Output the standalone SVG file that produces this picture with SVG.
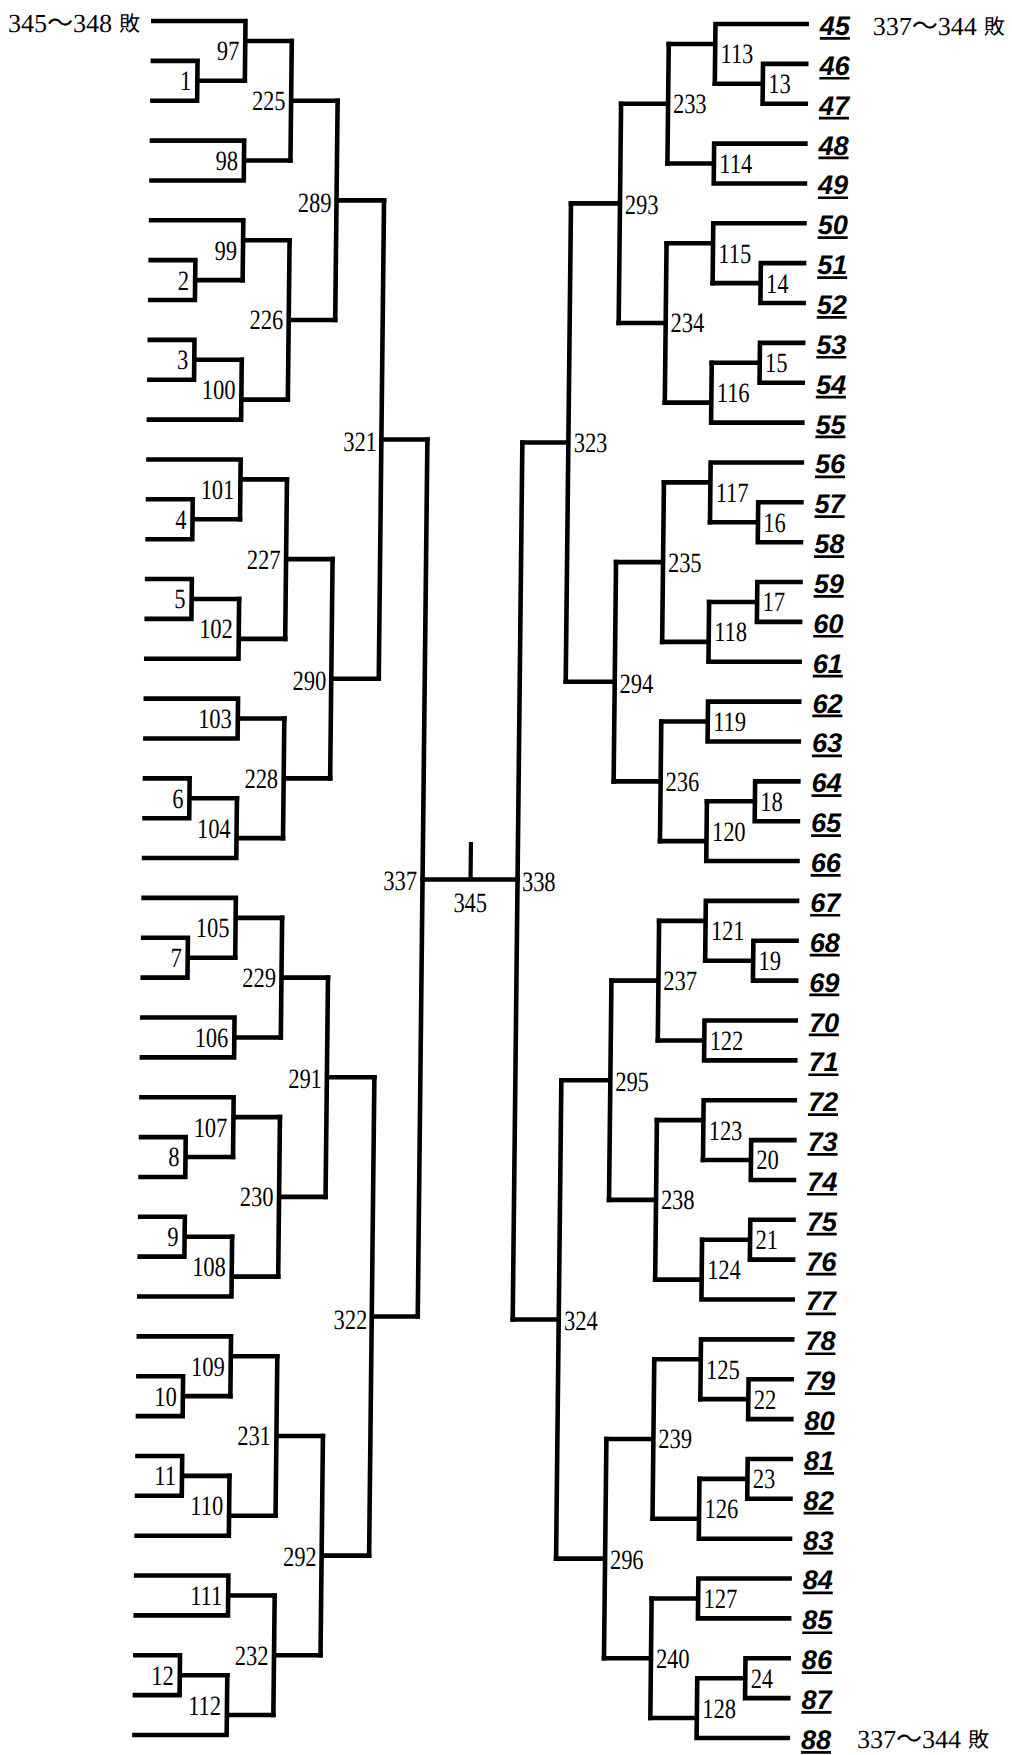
<svg xmlns="http://www.w3.org/2000/svg" width="1012" height="1755" viewBox="0 0 1012 1755">
<style>
.b{fill:none;stroke:#000;stroke-width:4.6;stroke-linecap:square;stroke-linejoin:miter}
.n{font-family:"Liberation Serif","Noto Sans CJK JP",serif;font-size:28px;fill:#000}
.e{text-anchor:end}
.s{text-anchor:start}
.m{text-anchor:middle}
.p{font-family:"Liberation Sans",Arial,sans-serif;font-size:27px;font-weight:bold;font-style:italic;text-decoration:underline;fill:#000}
.c{font-family:"Liberation Serif","Noto Sans CJK JP",serif;font-size:26px;fill:#000}
.k{font-family:"Noto Sans CJK JP",sans-serif;font-size:21px;fill:#000}
</style>
<rect width="1012" height="1755" fill="#fff"/>
<g transform="matrix(1,0,-0.011,1,0.231,0)">
<g id="connectors" class="b">
<path d="M153.3 60.86H198V100.72H153.3M198 80.79H245.5"/>
<path d="M153.3 260.16H198V300.02H153.3M198 280.09H245.5"/>
<path d="M153.3 339.88H198V379.74H153.3M198 359.81H245.5"/>
<path d="M153.3 499.32H198V539.18H153.3M198 519.25H245.5"/>
<path d="M153.3 579.04H198V618.9H153.3M198 598.97H245.5"/>
<path d="M153.3 778.34H198V818.2H153.3M198 798.27H245.5"/>
<path d="M153.3 937.78H198V977.64H153.3M198 957.71H245.5"/>
<path d="M153.3 1137.08H198V1176.94H153.3M198 1157.01H245.5"/>
<path d="M153.3 1216.8H198V1256.66H153.3M198 1236.73H245.5"/>
<path d="M153.3 1376.24H198V1416.1H153.3M198 1396.17H245.5"/>
<path d="M153.3 1455.96H198V1495.82H153.3M198 1475.89H245.5"/>
<path d="M153.3 1655.26H198V1695.12H153.3M198 1675.19H245.5"/>
<path d="M153.3 21H245.5V80.79M245.5 40.93H292"/>
<path d="M153.3 140.58H245.5V180.44H153.3M245.5 160.51H292"/>
<path d="M153.3 220.3H245.5V280.09M245.5 240.23H292"/>
<path d="M245.5 359.81V419.6H153.3M245.5 399.67H292"/>
<path d="M153.3 459.46H245.5V519.25M245.5 479.39H292"/>
<path d="M245.5 598.97V658.76H153.3M245.5 638.83H292"/>
<path d="M153.3 698.62H245.5V738.48H153.3M245.5 718.55H292"/>
<path d="M245.5 798.27V858.06H153.3M245.5 838.13H292"/>
<path d="M153.3 897.92H245.5V957.71M245.5 917.85H292"/>
<path d="M153.3 1017.5H245.5V1057.36H153.3M245.5 1037.43H292"/>
<path d="M153.3 1097.22H245.5V1157.01M245.5 1117.15H292"/>
<path d="M245.5 1236.73V1296.52H153.3M245.5 1276.59H292"/>
<path d="M153.3 1336.38H245.5V1396.17M245.5 1356.31H292"/>
<path d="M245.5 1475.89V1535.68H153.3M245.5 1515.75H292"/>
<path d="M153.3 1575.54H245.5V1615.4H153.3M245.5 1595.47H292"/>
<path d="M245.5 1675.19V1734.98H153.3M245.5 1715.05H292"/>
<path d="M292 40.93V160.51M292 100.72H338.5"/>
<path d="M292 240.23V399.67M292 319.95H338.5"/>
<path d="M292 479.39V638.83M292 559.11H338.5"/>
<path d="M292 718.55V838.13M292 778.34H338.5"/>
<path d="M292 917.85V1037.43M292 977.64H338.5"/>
<path d="M292 1117.15V1276.59M292 1196.87H338.5"/>
<path d="M292 1356.31V1515.75M292 1436.03H338.5"/>
<path d="M292 1595.47V1715.05M292 1655.26H338.5"/>
<path d="M338.5 100.72V319.95M338.5 200.37H386"/>
<path d="M338.5 559.11V778.34M338.5 678.69H386"/>
<path d="M338.5 977.64V1196.87M338.5 1077.29H386"/>
<path d="M338.5 1436.03V1655.26M338.5 1555.61H386"/>
<path d="M386 200.37V678.69M386 439.53H432"/>
<path d="M386 1077.29V1555.61M386 1316.45H432"/>
<path d="M432 439.53V1316.45"/>
<path d="M527 442.53V1319.45"/>
<path d="M432 879.5H527"/>
<path d="M480 842V879.5" style="stroke-width:4.2;stroke-linecap:butt"/>
<path d="M806.7 63.86H763.5V103.72H806.7M763.5 83.79H715.5"/>
<path d="M806.7 263.16H763.5V303.02H806.7M763.5 283.09H715.5"/>
<path d="M806.7 342.88H763.5V382.74H806.7M763.5 362.81H715.5"/>
<path d="M806.7 502.32H763.5V542.18H806.7M763.5 522.25H715.5"/>
<path d="M806.7 582.04H763.5V621.9H806.7M763.5 601.97H715.5"/>
<path d="M806.7 781.34H763.5V821.2H806.7M763.5 801.27H715.5"/>
<path d="M806.7 940.78H763.5V980.64H806.7M763.5 960.71H715.5"/>
<path d="M806.7 1140.08H763.5V1179.94H806.7M763.5 1160.01H715.5"/>
<path d="M806.7 1219.8H763.5V1259.66H806.7M763.5 1239.73H715.5"/>
<path d="M806.7 1379.24H763.5V1419.1H806.7M763.5 1399.17H715.5"/>
<path d="M806.7 1458.96H763.5V1498.82H806.7M763.5 1478.89H715.5"/>
<path d="M806.7 1658.26H763.5V1698.12H806.7M763.5 1678.19H715.5"/>
<path d="M806.7 24H715.5V83.79M715.5 43.93H669"/>
<path d="M806.7 143.58H715.5V183.44H806.7M715.5 163.51H669"/>
<path d="M806.7 223.3H715.5V283.09M715.5 243.23H669"/>
<path d="M715.5 362.81V422.6H806.7M715.5 402.67H669"/>
<path d="M806.7 462.46H715.5V522.25M715.5 482.39H669"/>
<path d="M715.5 601.97V661.76H806.7M715.5 641.83H669"/>
<path d="M806.7 701.62H715.5V741.48H806.7M715.5 721.55H669"/>
<path d="M715.5 801.27V861.06H806.7M715.5 841.13H669"/>
<path d="M806.7 900.92H715.5V960.71M715.5 920.85H669"/>
<path d="M806.7 1020.5H715.5V1060.36H806.7M715.5 1040.43H669"/>
<path d="M806.7 1100.22H715.5V1160.01M715.5 1120.15H669"/>
<path d="M715.5 1239.73V1299.52H806.7M715.5 1279.59H669"/>
<path d="M806.7 1339.38H715.5V1399.17M715.5 1359.31H669"/>
<path d="M715.5 1478.89V1538.68H806.7M715.5 1518.75H669"/>
<path d="M806.7 1578.54H715.5V1618.4H806.7M715.5 1598.47H669"/>
<path d="M715.5 1678.19V1737.98H806.7M715.5 1718.05H669"/>
<path d="M669 43.93V163.51M669 103.72H622"/>
<path d="M669 243.23V402.67M669 322.95H622"/>
<path d="M669 482.39V641.83M669 562.11H622"/>
<path d="M669 721.55V841.13M669 781.34H622"/>
<path d="M669 920.85V1040.43M669 980.64H622"/>
<path d="M669 1120.15V1279.59M669 1199.87H622"/>
<path d="M669 1359.31V1518.75M669 1439.03H622"/>
<path d="M669 1598.47V1718.05M669 1658.26H622"/>
<path d="M622 103.72V322.95M622 203.37H573"/>
<path d="M622 562.11V781.34M622 681.69H573"/>
<path d="M622 980.64V1199.87M622 1080.29H573"/>
<path d="M622 1439.03V1658.26M622 1558.61H573"/>
<path d="M573 203.37V681.69M573 442.53H527"/>
<path d="M573 1080.29V1558.61M573 1319.45H527"/>
</g>
<g id="labels-left" class="n e" transform="scale(0.8,1)">
<text id="m1" x="240" y="90.3">1</text>
<text id="m2" x="240" y="289.6">2</text>
<text id="m3" x="240" y="369.3">3</text>
<text id="m4" x="240" y="528.8">4</text>
<text id="m5" x="240" y="608.5">5</text>
<text id="m6" x="240" y="807.8">6</text>
<text id="m7" x="240" y="967.2">7</text>
<text id="m8" x="240" y="1166.5">8</text>
<text id="m9" x="240" y="1246.2">9</text>
<text id="m10" x="240" y="1405.7">10</text>
<text id="m11" x="240" y="1485.4">11</text>
<text id="m12" x="240" y="1684.7">12</text>
<text id="m97" x="299.4" y="60.4">97</text>
<text id="m98" x="299.4" y="170">98</text>
<text id="m99" x="299.4" y="259.7">99</text>
<text id="m100" x="299.4" y="399.2">100</text>
<text id="m101" x="299.4" y="498.9">101</text>
<text id="m102" x="299.4" y="638.4">102</text>
<text id="m103" x="299.4" y="728">103</text>
<text id="m104" x="299.4" y="837.7">104</text>
<text id="m105" x="299.4" y="937.3">105</text>
<text id="m106" x="299.4" y="1046.9">106</text>
<text id="m107" x="299.4" y="1136.6">107</text>
<text id="m108" x="299.4" y="1276.1">108</text>
<text id="m109" x="299.4" y="1375.8">109</text>
<text id="m110" x="299.4" y="1515.3">110</text>
<text id="m111" x="299.4" y="1605">111</text>
<text id="m112" x="299.4" y="1714.6">112</text>
<text id="m225" x="358.1" y="110.2">225</text>
<text id="m226" x="358.1" y="329.5">226</text>
<text id="m227" x="358.1" y="568.6">227</text>
<text id="m228" x="358.1" y="787.8">228</text>
<text id="m229" x="358.1" y="987.1">229</text>
<text id="m230" x="358.1" y="1206.4">230</text>
<text id="m231" x="358.1" y="1445.5">231</text>
<text id="m232" x="358.1" y="1664.8">232</text>
<text id="m289" x="416.9" y="212.5">289</text>
<text id="m290" x="416.9" y="690.5">290</text>
<text id="m291" x="416.9" y="1088.5">291</text>
<text id="m292" x="416.9" y="1566.5">292</text>
<text id="m321" x="476.9" y="451">321</text>
<text id="m322" x="476.9" y="1329">322</text>
<text id="m337" x="533.1" y="890.5">337</text>
</g>
<g id="labels-right" class="n s" transform="scale(0.8,1)">
<text id="m13" x="961.25" y="93.3">13</text>
<text id="m14" x="961.25" y="292.6">14</text>
<text id="m15" x="961.25" y="372.3">15</text>
<text id="m16" x="961.25" y="531.8">16</text>
<text id="m17" x="961.25" y="611.5">17</text>
<text id="m18" x="961.25" y="810.8">18</text>
<text id="m19" x="961.25" y="970.2">19</text>
<text id="m20" x="961.25" y="1169.5">20</text>
<text id="m21" x="961.25" y="1249.2">21</text>
<text id="m22" x="961.25" y="1408.7">22</text>
<text id="m23" x="961.25" y="1488.4">23</text>
<text id="m24" x="961.25" y="1687.7">24</text>
<text id="m113" x="901.25" y="63.4">113</text>
<text id="m114" x="901.25" y="173">114</text>
<text id="m115" x="901.25" y="262.7">115</text>
<text id="m116" x="901.25" y="402.2">116</text>
<text id="m117" x="901.25" y="501.9">117</text>
<text id="m118" x="901.25" y="641.4">118</text>
<text id="m119" x="901.25" y="731">119</text>
<text id="m120" x="901.25" y="840.7">120</text>
<text id="m121" x="901.25" y="940.3">121</text>
<text id="m122" x="901.25" y="1049.9">122</text>
<text id="m123" x="901.25" y="1139.6">123</text>
<text id="m124" x="901.25" y="1279.1">124</text>
<text id="m125" x="901.25" y="1378.8">125</text>
<text id="m126" x="901.25" y="1518.3">126</text>
<text id="m127" x="901.25" y="1608">127</text>
<text id="m128" x="901.25" y="1717.6">128</text>
<text id="m233" x="842.5" y="113.2">233</text>
<text id="m234" x="842.5" y="332.5">234</text>
<text id="m235" x="842.5" y="571.6">235</text>
<text id="m236" x="842.5" y="790.8">236</text>
<text id="m237" x="842.5" y="990.1">237</text>
<text id="m238" x="842.5" y="1209.4">238</text>
<text id="m239" x="842.5" y="1448.5">239</text>
<text id="m240" x="842.5" y="1667.8">240</text>
<text id="m293" x="783.75" y="214.5">293</text>
<text id="m294" x="783.75" y="693">294</text>
<text id="m295" x="783.75" y="1091.5">295</text>
<text id="m296" x="783.75" y="1569">296</text>
<text id="m323" x="723.1" y="452">323</text>
<text id="m324" x="723.1" y="1330">324</text>
<text id="m338" x="664.4" y="891">338</text>
<text id="m345" class="n m" x="600" y="912">345</text>
</g>
<g id="players-right" class="p">
<text x="820" y="35">45</text>
<text x="820" y="74.9">46</text>
<text x="820" y="114.7">47</text>
<text x="820" y="154.6">48</text>
<text x="820" y="194.4">49</text>
<text x="820" y="234.3">50</text>
<text x="820" y="274.2">51</text>
<text x="820" y="314">52</text>
<text x="820" y="353.9">53</text>
<text x="820" y="393.7">54</text>
<text x="820" y="433.6">55</text>
<text x="820" y="473.5">56</text>
<text x="820" y="513.3">57</text>
<text x="820" y="553.2">58</text>
<text x="820" y="593">59</text>
<text x="820" y="632.9">60</text>
<text x="820" y="672.8">61</text>
<text x="820" y="712.6">62</text>
<text x="820" y="752.5">63</text>
<text x="820" y="792.3">64</text>
<text x="820" y="832.2">65</text>
<text x="820" y="872.1">66</text>
<text x="820" y="911.9">67</text>
<text x="820" y="951.8">68</text>
<text x="820" y="991.6">69</text>
<text x="820" y="1031.5">70</text>
<text x="820" y="1071.4">71</text>
<text x="820" y="1111.2">72</text>
<text x="820" y="1151.1">73</text>
<text x="820" y="1190.9">74</text>
<text x="820" y="1230.8">75</text>
<text x="820" y="1270.7">76</text>
<text x="820" y="1310.5">77</text>
<text x="820" y="1350.4">78</text>
<text x="820" y="1390.2">79</text>
<text x="820" y="1430.1">80</text>
<text x="820" y="1470">81</text>
<text x="820" y="1509.8">82</text>
<text x="820" y="1549.7">83</text>
<text x="820" y="1589.5">84</text>
<text x="820" y="1629.4">85</text>
<text x="820" y="1669.3">86</text>
<text x="820" y="1709.1">87</text>
<text x="820" y="1749">88</text>
</g>
<g id="notes">
<text class="c" x="8" y="32">345～348</text>
<text class="k" x="119" y="31">敗</text>
<text class="c" x="873" y="35">337～344</text>
<text class="k" x="984" y="34">敗</text>
<text class="c" x="876" y="1748">337～344</text>
<text class="k" x="987" y="1747">敗</text>
</g>
</g>
</svg>
